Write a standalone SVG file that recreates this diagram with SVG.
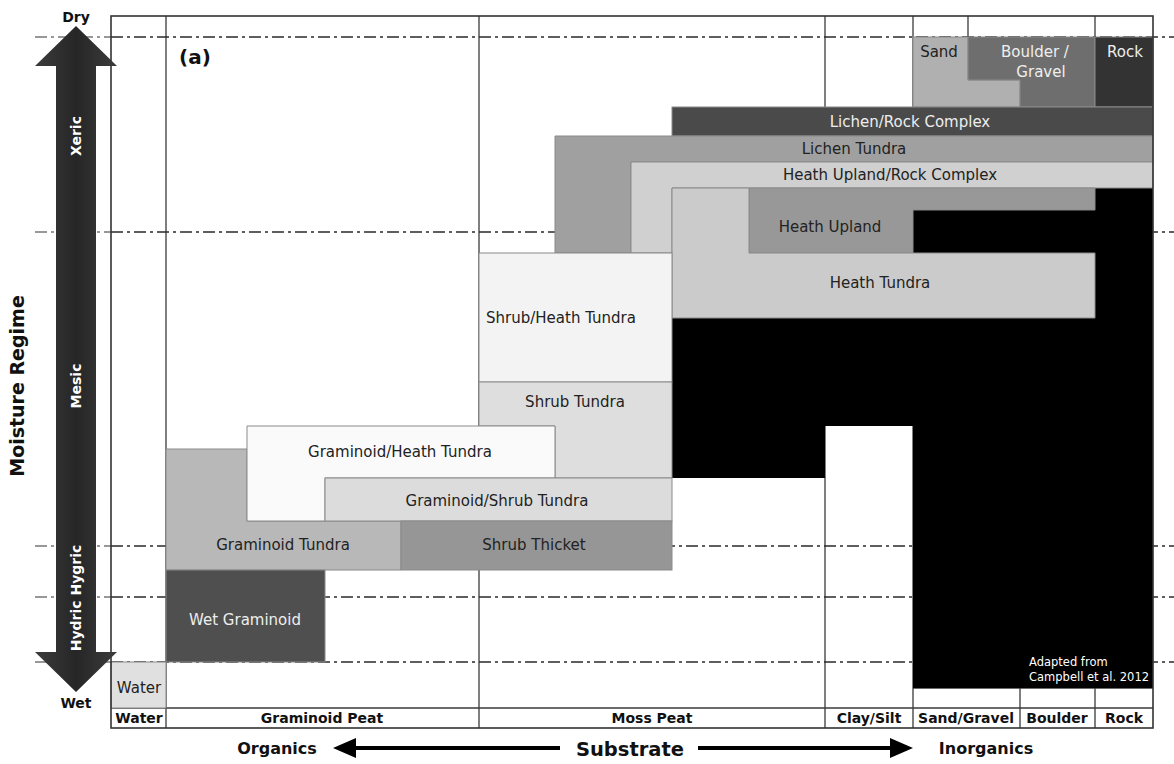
<svg xmlns="http://www.w3.org/2000/svg" width="1174" height="764" viewBox="0 0 1174 764">
<defs>
<style>
.dd{stroke:#2a2a2a;stroke-width:1.6;stroke-dasharray:12 4 3 4;fill:none}
.ddl{stroke:#777;stroke-width:1.4;stroke-dasharray:12 4 3 4;fill:none}
.grid{stroke:#3a3a3a;stroke-width:1.3;fill:none}
.frame{stroke:#333;stroke-width:1.6;fill:none}
.n{stroke:#8a8a8a;stroke-width:1}
.t{font-family:"DejaVu Sans",Verdana,sans-serif;font-size:15px;fill:#222;text-anchor:middle}
.tw{font-family:"DejaVu Sans",Verdana,sans-serif;font-size:15px;fill:#eee;text-anchor:middle}
.b{font-family:"DejaVu Sans",Verdana,sans-serif;font-weight:bold;fill:#111;text-anchor:middle}
.bw{font-family:"DejaVu Sans",Verdana,sans-serif;font-weight:bold;font-size:14px;fill:#fff;text-anchor:middle}
</style>
<linearGradient id="ag" x1="0" y1="0" x2="1" y2="0">
<stop offset="0" stop-color="#3c3c3c"/>
<stop offset="0.5" stop-color="#262626"/>
<stop offset="1" stop-color="#3c3c3c"/>
</linearGradient>
</defs>
<rect x="0" y="0" width="1174" height="764" fill="#fff"/>

<g id="grid">
<line class="grid" x1="166" y1="16" x2="166" y2="728"/>
<line class="grid" x1="479" y1="16" x2="479" y2="728"/>
<line class="grid" x1="825" y1="16" x2="825" y2="728"/>
<line class="grid" x1="913" y1="16" x2="913" y2="728"/>
<line class="grid" x1="968" y1="16" x2="968" y2="37"/>
<line class="grid" x1="1095" y1="16" x2="1095" y2="37"/>
<line class="grid" x1="1020" y1="688" x2="1020" y2="728"/>
<line class="grid" x1="1095" y1="688" x2="1095" y2="728"/>
<line class="grid" x1="913" y1="688" x2="1153" y2="688"/>
<line class="grid" x1="111" y1="708" x2="1153" y2="708"/>
</g>

<g id="moisture-lines">
<line class="ddl" x1="35" y1="37" x2="111" y2="37"/>
<line class="dd" x1="111" y1="37" x2="1174" y2="37"/>
<line class="ddl" x1="35" y1="232" x2="111" y2="232"/>
<line class="dd" x1="111" y1="232" x2="1174" y2="232"/>
<line class="ddl" x1="35" y1="546" x2="111" y2="546"/>
<line class="dd" x1="111" y1="546" x2="1174" y2="546"/>
<line class="ddl" x1="35" y1="597" x2="111" y2="597"/>
<line class="dd" x1="111" y1="597" x2="1174" y2="597"/>
<line class="ddl" x1="35" y1="662" x2="111" y2="662"/>
<line class="dd" x1="111" y1="662" x2="1174" y2="662"/>
</g>

<g id="unvegetated">
<path d="M672,188 H1153 V688 H913 V426 H825 V478 H672 Z" fill="#000"/>
<text x="1029" y="666" font-family="DejaVu Sans,Verdana,sans-serif" font-size="11.5" fill="#fff">Adapted from</text>
<text x="1029" y="681" font-family="DejaVu Sans,Verdana,sans-serif" font-size="11.5" fill="#fff">Campbell et al. 2012</text>
</g>

<g id="sand"><path class="n" d="M913,37 H968 V80 H1020 V107 H913 Z" fill="#b0b0b0"/><text class="t" x="939" y="57">Sand</text></g>
<g id="boulder-gravel"><path class="n" d="M968,37 H1095 V107 H1020 V80 H968 Z" fill="#6e6e6e"/><text class="tw" x="1035" y="57">Boulder /</text><text class="tw" x="1041" y="77">Gravel</text></g>
<g id="rock"><rect class="n" x="1095" y="37" width="58" height="70" fill="#333"/><text class="tw" x="1125" y="57">Rock</text></g>

<g id="lichen-rock-complex"><rect class="n" x="672" y="107" width="481" height="29" fill="#4a4a4a"/><text class="tw" x="910" y="127">Lichen/Rock Complex</text></g>
<g id="lichen-tundra"><path class="n" d="M555,136 H1153 V162 H631 V253 H555 Z" fill="#a0a0a0"/><text class="t" x="854" y="154">Lichen Tundra</text></g>
<g id="heath-upland-rock-complex"><path class="n" d="M631,162 H1153 V188 H672 V253 H631 Z" fill="#d0d0d0"/><text class="t" x="890" y="180">Heath Upland/Rock Complex</text></g>
<g id="heath-upland"><path class="n" d="M749,188 H1095 V210 H913 V253 H749 Z" fill="#989898"/><text class="t" x="830" y="232">Heath Upland</text></g>
<g id="heath-tundra"><path class="n" d="M672,188 H749 V253 H1095 V318 H672 Z" fill="#cbcbcb"/><text class="t" x="880" y="288">Heath Tundra</text></g>

<g id="shrub-heath-tundra"><rect class="n" x="479" y="253" width="193" height="129" fill="#f3f3f3"/><text class="t" x="561" y="323">Shrub/Heath Tundra</text></g>
<g id="shrub-tundra"><path class="n" d="M479,382 H672 V478 H555 V426 H479 Z" fill="#dedede"/><text class="t" x="575" y="407">Shrub Tundra</text></g>

<g id="graminoid-tundra"><path class="n" d="M166,449 H247 V521 H401 V570 H166 Z" fill="#b8b8b8"/><text class="t" x="283" y="550">Graminoid Tundra</text></g>
<g id="graminoid-heath-tundra"><path class="n" d="M247,426 H555 V478 H325 V521 H247 Z" fill="#fafafa"/><text class="t" x="400" y="457">Graminoid/Heath Tundra</text></g>
<g id="graminoid-shrub-tundra"><rect class="n" x="325" y="478" width="347" height="43" fill="#dcdcdc"/><text class="t" x="497" y="506">Graminoid/Shrub Tundra</text></g>
<g id="shrub-thicket"><rect class="n" x="401" y="521" width="271" height="49" fill="#969696"/><text class="t" x="534" y="550">Shrub Thicket</text></g>
<g id="wet-graminoid"><rect class="n" x="166" y="570" width="159" height="92" fill="#4f4f4f"/><text class="tw" x="245" y="625">Wet Graminoid</text></g>
<g id="water"><rect class="n" x="111" y="662" width="55" height="46" fill="#e0e0e0"/><text class="t" x="139" y="693">Water</text></g>

<rect class="frame" x="111" y="16" width="1042" height="712"/>

<text class="b" x="195" y="64" font-size="20">(a)</text>

<g id="substrate-labels">
<text class="b" x="139" y="723" font-size="14">Water</text>
<text class="b" x="322" y="723" font-size="14">Graminoid Peat</text>
<text class="b" x="652" y="723" font-size="14">Moss Peat</text>
<text class="b" x="869" y="723" font-size="14">Clay/Silt</text>
<text class="b" x="966" y="723" font-size="14">Sand/Gravel</text>
<text class="b" x="1057" y="723" font-size="14">Boulder</text>
<text class="b" x="1124" y="723" font-size="14">Rock</text>
</g>

<g id="moisture-axis">
<path d="M76,26 L117,66 L96,66 L96,652 L117,652 L76,692 L35,652 L56,652 L56,66 L35,66 Z" fill="url(#ag)"/>
<text class="bw" transform="translate(81,136) rotate(-90)">Xeric</text>
<text class="bw" transform="translate(81,386) rotate(-90)">Mesic</text>
<text class="bw" transform="translate(81,598) rotate(-90)">Hydric Hygric</text>
<text class="b" x="76" y="22" font-size="14">Dry</text>
<text class="b" x="76" y="708" font-size="14">Wet</text>
<text class="b" transform="translate(24,386) rotate(-90)" font-size="19">Moisture Regime</text>
</g>

<g id="connectors">
<line x1="350" y1="748" x2="560" y2="748" stroke="#000" stroke-width="4"/>
<path d="M333,748 L356,738 L356,758 Z" fill="#000"/>
<line x1="698" y1="748" x2="895" y2="748" stroke="#000" stroke-width="4"/>
<path d="M913,748 L890,738 L890,758 Z" fill="#000"/>
</g>
<text class="b" x="277" y="754" font-size="16">Organics</text>
<text class="b" x="630" y="756" font-size="19.5">Substrate</text>
<text class="b" x="986" y="754" font-size="16">Inorganics</text>
</svg>
